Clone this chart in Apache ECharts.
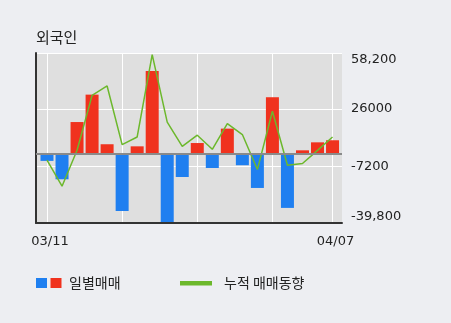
<!DOCTYPE html>
<html><head><meta charset="utf-8">
<script src="https://cdn.jsdelivr.net/npm/echarts@6/dist/echarts.min.js"></script>
<style>html,body{margin:0;padding:0;background:#edeef2;} #c{width:451px;height:323px;}</style>
</head><body><div id="c"></div>
<script>
const dates = ['03/11','03/12','03/13','03/16','03/17','03/18','03/19','03/20','03/23','03/24',
               '03/25','03/26','03/27','03/30','03/31','04/01','04/02','04/03','04/06','04/07'];
const daily = [-4000,-14600,18400,34200,5600,-32900,4400,47800,-39200,-13300,
               6300,-8100,14600,-6500,-19600,32700,-31100,2100,6700,7900];
const cumulative = [-3600,-18600,2100,33800,39200,5400,9800,57300,18400,4400,
                    10800,2700,17500,11200,-9000,24600,-6500,-5500,2100,9800];
const yTickValues = [-39800,-7200,26000,58200];
const yTickLabels = ['-39,800','-7200','26000','58,200'];
const xLabelIdx = [0,19];
const xGridIdx = [0,5,10,15,19];

const RED = '#f0321e', BLUE = '#1f7ff0', GREEN = '#6cb82c';
const KR = "'Noto Sans CJK KR', sans-serif";
const NUM = "'DejaVu Sans', sans-serif";

const chart = echarts.init(document.getElementById('c'), null, {renderer:'canvas'});
chart.setOption({
  backgroundColor: '#edeef2',
  animation: false,
  title: {text: '외국인', left: 36, top: 30, padding: 0,
    textStyle: {fontFamily: KR, fontSize: 15, fontWeight: 'normal', color: '#222'}},
  grid: {left: 36, right: 109, top: 53, bottom: 100, show: true,
    backgroundColor: '#dfdfdf', borderWidth: 0},
  xAxis: {
    type: 'value', min: -0.732, max: 19.63,
    axisLine: {show: true, onZero: false, lineStyle: {color: '#333', width: 2}},
    axisTick: {show: false, customValues: xGridIdx},
    splitLine: {show: true, lineStyle: {color: '#ffffff', width: 1}},
    axisLabel: {customValues: xLabelIdx, formatter: v => dates[Math.round(v)],
      fontFamily: NUM, fontSize: 13, color: '#222', margin: 12, padding: [0,0,0,6]}
  },
  yAxis: [{
    type: 'value', position: 'right', min: -39800, max: 58200,
    axisLine: {show: false},
    axisTick: {show: false, customValues: yTickValues},
    splitLine: {show: true, lineStyle: {color: '#ffffff', width: 1}},
    axisLabel: {customValues: yTickValues,
      formatter: v => yTickLabels[yTickValues.indexOf(v)],
      fontFamily: NUM, fontSize: 13, color: '#222', margin: 9,
      verticalAlignMinLabel: 'bottom', verticalAlignMaxLabel: 'top'}
  }, {
    type: 'value', position: 'left', min: -39800, max: 58200,
    axisLine: {show: true, lineStyle: {color: '#333', width: 2}},
    axisTick: {show: false}, axisLabel: {show: false}, splitLine: {show: false}
  }],
  series: [{
    name: '일별매매', type: 'bar', barWidth: 13,
    data: daily.map((v, i) => [i, v]),
    itemStyle: {color: p => p.value[1] >= 0 ? RED : BLUE}
  }, {
    name: '누적 매매동향', type: 'line', symbol: 'none',
    data: cumulative.map((v, i) => [i, v]),
    lineStyle: {color: GREEN, width: 1.5},
    markLine: {silent: true, symbol: 'none', label: {show: false},
      lineStyle: {color: '#8a8a8a', width: 2, type: 'solid'},
      data: [{yAxis: 0}]}
  }],
  graphic: [
    {type: 'rect', shape: {x: 36, y: 278, width: 11, height: 10}, style: {fill: BLUE}},
    {type: 'rect', shape: {x: 50.5, y: 278, width: 11, height: 10}, style: {fill: RED}},
    {type: 'text', x: 69, y: 283, style: {text: '일별매매', fill: '#222', font: "14px 'Noto Sans CJK KR'", verticalAlign: 'middle'}},
    {type: 'rect', shape: {x: 180, y: 281, width: 32, height: 4.5}, style: {fill: GREEN}},
    {type: 'text', x: 224, y: 283, style: {text: '누적 매매동향', fill: '#222', font: "14px 'Noto Sans CJK KR'", verticalAlign: 'middle'}}
  ]
});
</script></body></html>
